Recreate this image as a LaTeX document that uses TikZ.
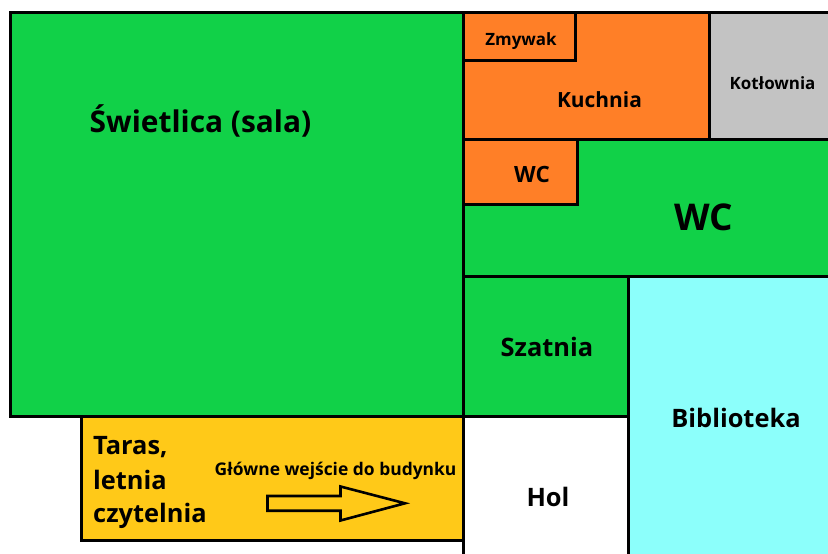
\documentclass[tikz,border=0pt]{standalone}
\usepackage{fontspec}
\setmainfont{Open Sans}
\definecolor{roomgreen}{HTML}{11D148}
\definecolor{roomorange}{HTML}{FF7F27}
\definecolor{roomgrey}{HTML}{C3C3C3}
\definecolor{roomcyan}{HTML}{8CFFFB}
\definecolor{roomyellow}{HTML}{FFC918}
\tikzset{
  room/.style={draw=black,line width=3bp,line join=miter},
  lab/.style={inner sep=0pt,text=black},
  fsa/.style={lab,font=\fontsize{17}{20}\selectfont\bfseries},
  fsg/.style={lab,font=\fontsize{17.5}{20}\selectfont\bfseries},
  fsk/.style={lab,font=\fontsize{21}{25}\selectfont\bfseries},
  fsw/.style={lab,font=\fontsize{22.5}{27}\selectfont\bfseries},
  fsb/.style={lab,font=\fontsize{25.5}{30}\selectfont\bfseries},
  fss/.style={lab,font=\fontsize{30}{36}\selectfont\bfseries},
  fsl/.style={lab,font=\fontsize{37}{44}\selectfont\bfseries},
}
\begin{document}
\begin{tikzpicture}[x=1bp,y=-1bp]
\useasboundingbox (0,0) rectangle (828,554);
\path[fill=white] (0,0) rectangle (828,554);
\begin{scope}
\clip (0,0) rectangle (828,554);
\draw[room,fill=roomgreen] (10.5,12.3) rectangle (463.5,416);
\draw[room,fill=roomyellow] (81,416) rectangle (463.5,540);
\draw[room,fill=roomorange] (463.5,12.3) rectangle (709,140);
\draw[room,fill=roomorange] (463.5,12.3) rectangle (575.5,61);
\draw[room,fill=roomgrey] (709,12.3) rectangle (835,140);
\draw[room,fill=roomgreen] (463.5,140) rectangle (835,277);
\draw[room,fill=roomorange] (463.5,140) rectangle (577.5,205);
\draw[room,fill=roomgreen] (463.5,277) rectangle (628.5,416);
\draw[room,fill=white] (463.5,416) rectangle (628.5,560);
\draw[room,fill=roomcyan] (628.5,277) rectangle (835,560);
\draw[draw=black,line width=2.6bp,line join=miter,fill=roomyellow]
  (267.5,496) -- (340.5,496) -- (340.5,486.5) -- (405,503.3) -- (340.5,520.5) -- (340.5,510.7) -- (267.5,510.7) -- cycle;
\end{scope}
\node[fss] (sala) at (200.5,121) {Świetlica (sala)};
\node[fsa] (zm) at (521,41) {Zmywak};
\node[fsk] (ku) at (599.5,99.5) {Kuchnia};
\node[fsa] (ko) at (772.5,83.5) {Kotłownia};
\node[fsw] (wc1) at (532,174) {WC};
\node[fsl] (wc2) at (704,217) {WC};
\node[fsb] (sz) at (547,346.5) {Szatnia};
\node[fsb] (bi) at (736,417.5) {Biblioteka};
\node[fsb] (ho) at (548,497) {Hol};
\node[fsg] (gl) at (335.5,471) {Główne wejście do budynku};
\node[fsb,anchor=base west] (t1) at (93,454) {Taras,};
\node[fsb,anchor=base west] (t2) at (93,489) {letnia};
\node[fsb,anchor=base west] (t3) at (93,522) {czytelnia};
\end{tikzpicture}
\end{document}
